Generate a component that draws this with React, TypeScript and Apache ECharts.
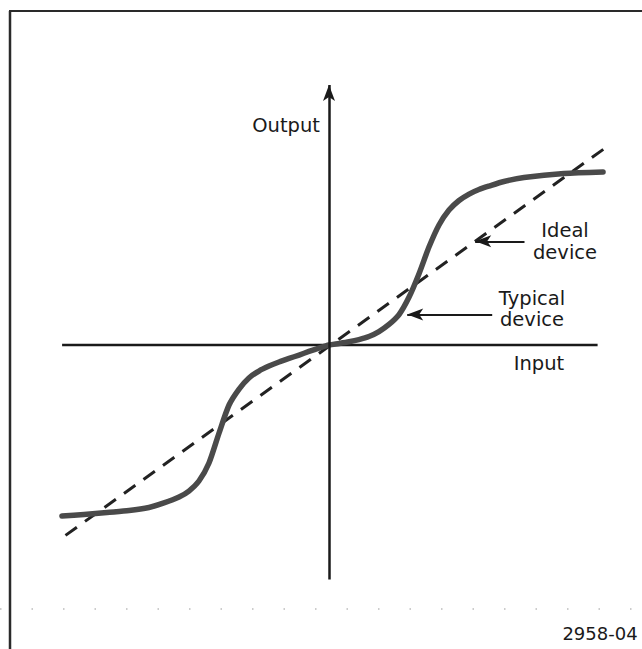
import React, { useEffect, useRef } from "react";
import * as echarts from "echarts";

// Typical device transfer curve (input, output), normalised so saturation ≈ 1
const typicalX = [-1.571, -1.441, -1.306, -1.176, -1.059, -0.971, -0.882, -0.824, -0.765, -0.706, -0.647, -0.588, -0.529, -0.471, -0.412, -0.353, -0.294, -0.235, -0.176, -0.118, -0.059, 0, 0.059, 0.118, 0.176, 0.235, 0.294, 0.353, 0.412, 0.471, 0.529, 0.588, 0.647, 0.706, 0.765, 0.824, 0.882, 0.941, 1.029, 1.147, 1.382, 1.612];
const typicalY = [-1.006, -0.997, -0.985, -0.974, -0.956, -0.929, -0.894, -0.859, -0.8, -0.694, -0.518, -0.353, -0.259, -0.194, -0.153, -0.124, -0.1, -0.079, -0.059, -0.038, -0.018, 0, 0.009, 0.019, 0.032, 0.05, 0.079, 0.121, 0.179, 0.282, 0.418, 0.576, 0.706, 0.794, 0.85, 0.888, 0.915, 0.935, 0.962, 0.985, 1.009, 1.018];

// Ideal device (straight line through origin)
const idealX = [-1.55, 1.64];
const idealY = [-1.12, 1.17];

// Axes extents
const inputAxisX = [-1.57, 1.58];
const outputAxisY = [-1.38, 1.53];

// Annotation arrows [tailX, tailY, tipX, tipY]
const idealArrow = [1.15, 0.61, 0.86, 0.61];
const typicalArrow = [0.96, 0.18, 0.46, 0.18];

const labels = ["Output", "Input", "Ideal", "device", "Typical", "device", "2958-04"];

export default function App() {
  const ref = useRef<HTMLDivElement>(null);
  useEffect(() => {
    if (!ref.current) return;
    const chart = echarts.init(ref.current, undefined, { renderer: "svg" });
    const font = "DejaVu Sans, Liberation Sans, sans-serif";
    const txt = (text: string, x: number, y: number, align: string, size = 19.5) => ({
      type: "text",
      x,
      y,
      silent: true,
      style: {
        text,
        fill: "#1a1a1a",
        fontSize: size,
        fontFamily: font,
        textAlign: align,
        textVerticalAlign: "middle",
      },
    });
    chart.setOption({
      animation: false,
      backgroundColor: "#ffffff",
      grid: { left: 23, right: 7, top: 73, bottom: 49 },
      xAxis: { type: "value", min: -1.8, max: 1.8, show: false },
      yAxis: { type: "value", min: -1.5, max: 1.6, show: false },
      graphic: [
        { type: "line", shape: { x1: 9, y1: 11, x2: 642, y2: 11 }, style: { stroke: "#2a2a2a", lineWidth: 2 } },
        { type: "line", shape: { x1: 10, y1: 11, x2: 10, y2: 649 }, style: { stroke: "#2a2a2a", lineWidth: 2.5 } },
        { type: "line", shape: { x1: 0, y1: 609, x2: 642, y2: 609 }, style: { stroke: "#999", lineWidth: 1.2, lineDash: [1.5, 30] } },
        txt(labels[0], 320, 125, "right"),
        txt(labels[1], 539, 363, "center"),
        txt(labels[2], 565, 230, "center"),
        txt(labels[3], 565, 252, "center"),
        txt(labels[4], 532, 298, "center"),
        txt(labels[5], 532, 319, "center"),
        txt(labels[6], 600, 633, "center", 18),
      ],
      series: [
        {
          type: "line",
          data: inputAxisX.map((x) => [x, 0]),
          showSymbol: false,
          lineStyle: { color: "#1a1a1a", width: 2.5 },
          silent: true,
        },
        {
          type: "line",
          data: idealX.map((x, i) => [x, idealY[i]]),
          showSymbol: false,
          lineStyle: { color: "#222", width: 3, type: [14, 10] },
          silent: true,
        },
        {
          type: "line",
          data: typicalX.map((x, i) => [x, typicalY[i]]),
          showSymbol: false,
          smooth: 0.25,
          lineStyle: { color: "#4a4a4a", width: 5.5, cap: "round", join: "round" },
          silent: true,
        },
        {
          type: "line",
          data: [],
          silent: true,
          markLine: {
            silent: true,
            symbol: ["none", "arrow"],
            symbolSize: [9, 16],
            label: { show: false },
            emphasis: { disabled: true },
            data: [
              [
                { coord: [0, outputAxisY[0]], lineStyle: { color: "#1a1a1a", width: 2.5, type: "solid" } },
                { coord: [0, outputAxisY[1]] },
              ],
              [
                { coord: [idealArrow[0], idealArrow[1]], lineStyle: { color: "#1a1a1a", width: 2, type: "solid" } },
                { coord: [idealArrow[2], idealArrow[3]] },
              ],
              [
                { coord: [typicalArrow[0], typicalArrow[1]], lineStyle: { color: "#1a1a1a", width: 2, type: "solid" } },
                { coord: [typicalArrow[2], typicalArrow[3]] },
              ],
            ],
          },
        },
      ],
    });
    return () => chart.dispose();
  }, []);
  return (
    <div
      ref={ref}
      style={{ position: "fixed", left: 0, top: 0, width: 642, height: 649, background: "#fff" }}
    />
  );
}
